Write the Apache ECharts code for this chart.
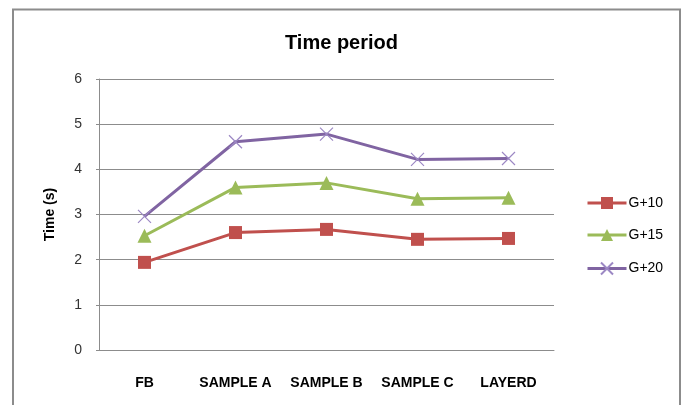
<!DOCTYPE html>
<html>
<head>
<meta charset="utf-8">
<script src="https://cdn.jsdelivr.net/npm/echarts@6/dist/echarts.min.js"></script>
<style>
  html, body { margin: 0; padding: 0; background: #fff; }
  #chart { width: 683px; height: 405px; }
</style>
</head>
<body>
<div id="chart"></div>
<script>
// Categories along the x axis
const categories = ['FB', 'SAMPLE A', 'SAMPLE B', 'SAMPLE C', 'LAYERD'];

// Time in seconds for each group
const g10 = [1.94, 2.60, 2.67, 2.45, 2.47];
const g15 = [2.53, 3.60, 3.70, 3.35, 3.37];
const g20 = [2.96, 4.61, 4.78, 4.22, 4.24];

const seriesNames = ['G+10', 'G+15', 'G+20'];
const yTicks = { min: 0, max: 6, interval: 1 };

const FONT = '"Liberation Sans", Arial, sans-serif';
const crossPath = 'path://M0,0 L10,10 M10,0 L0,10';

const chart = echarts.init(document.getElementById('chart'), null, { renderer: 'canvas' });

chart.setOption({
  backgroundColor: '#ffffff',
  animation: false,
  title: {
    text: 'Time period',
    left: 'center',
    top: 28,
    textStyle: { fontFamily: FONT, fontSize: 20, fontWeight: 'bold', color: '#000' }
  },
  graphic: [{
    type: 'rect',
    shape: { x: 13, y: 9.5, width: 667, height: 410 },
    style: { fill: 'none', stroke: '#8c8c8c', lineWidth: 2 },
    silent: true
  }],
  legend: {
    orient: 'vertical',
    left: 581,
    top: 191,
    itemWidth: 39,
    itemHeight: 15,
    itemGap: 18,
    lineStyle: { width: 3 },
    textStyle: { fontFamily: FONT, fontSize: 14, color: '#000', padding: [0, 0, 0, -3] },
    data: seriesNames
  },
  grid: { left: 99, right: 129, top: 79, bottom: 55 },
  xAxis: {
    type: 'category',
    data: categories,
    boundaryGap: true,
    axisLine: { lineStyle: { color: '#8c8c8c', width: 1 } },
    axisTick: { show: false },
    axisLabel: { fontFamily: FONT, fontSize: 14, fontWeight: 'bold', color: '#000', margin: 26, interval: 0 }
  },
  yAxis: {
    type: 'value',
    min: yTicks.min,
    max: yTicks.max,
    interval: yTicks.interval,
    name: 'Time (s)',
    nameLocation: 'middle',
    nameGap: 42,
    nameRotate: 90,
    nameTextStyle: { fontFamily: FONT, fontSize: 14, fontWeight: 'bold', color: '#000' },
    axisLine: { show: true, lineStyle: { color: '#8c8c8c', width: 1 } },
    axisTick: { show: true, length: 3, lineStyle: { color: '#8c8c8c' } },
    axisLabel: { fontFamily: FONT, fontSize: 14, color: '#333', margin: 17 },
    splitLine: { lineStyle: { color: '#8c8c8c', width: 1 } }
  },
  series: [
    {
      name: 'G+10', type: 'line', data: g10,
      symbol: 'rect', symbolSize: 13,
      lineStyle: { color: '#C0504D', width: 3 },
      itemStyle: { color: '#C0504D' }
    },
    {
      name: 'G+15', type: 'line', data: g15,
      symbol: 'triangle', symbolSize: 14,
      lineStyle: { color: '#9BBB59', width: 3 },
      itemStyle: { color: '#9BBB59' }
    },
    {
      name: 'G+20', type: 'line', data: g20,
      symbol: crossPath, symbolSize: 13,
      lineStyle: { color: '#8064A2', width: 3 },
      itemStyle: { color: 'none', borderColor: '#9c88c4', borderWidth: 1.2 }
    }
  ]
});
</script>
</body>
</html>
